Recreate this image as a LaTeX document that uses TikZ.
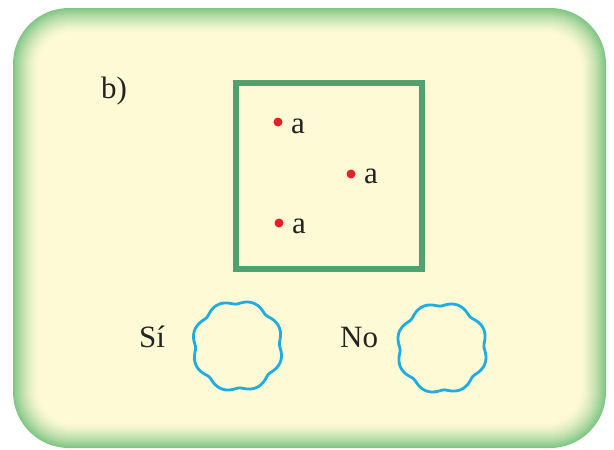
\documentclass[tikz,border=0pt]{standalone}
\usepackage{fontspec}
\setmainfont{Liberation Serif}
\definecolor{bggreen}{RGB}{128,198,132}
\definecolor{bgyellow}{RGB}{255,250,214}
\definecolor{sqgreen}{RGB}{82,160,112}
\definecolor{dotred}{RGB}{232,30,40}
\definecolor{wavecyan}{RGB}{30,172,226}
\definecolor{txt}{RGB}{35,35,35}
\tikzset{
  lbl/.style={font=\fontsize{31}{36}\selectfont, text=txt, inner sep=0pt},
  dotnode/.style={circle, fill=dotred, minimum size=9pt, inner sep=0pt},
  wavy/.style={draw=wavecyan, line width=2.8pt},
}
\begin{document}
\begin{tikzpicture}[x=1pt,y=-1pt]
\useasboundingbox (0,0) rectangle (614,450);
\fill[white] (0,0) rectangle (614,450);
% glowing border
\foreach \i in {0,...,26}{
  \pgfmathsetmacro{\p}{100*(1-\i/26)^1.5}
  \fill[bggreen!\p!bgyellow, rounded corners={56-\i*0.9}] (13+\i,8+\i) rectangle (606-\i,448-\i);
}
\node[lbl, anchor=base west] (b) at (101,98) {b)};
% square
\draw[sqgreen, line width=6pt] (236,83) rectangle (422,269);
\node[dotnode] (d1) at (278,122) {};
\node[dotnode] (d2) at (351,174) {};
\node[dotnode] (d3) at (279,223) {};
\node[lbl, anchor=base west] (a1) at (291,133) {a};
\node[lbl, anchor=base west] (a2) at (364,183) {a};
\node[lbl, anchor=base west] (a3) at (292,233) {a};
% answers
\node[lbl, anchor=base west] (si) at (139,347) {Sí};
\node[lbl, anchor=base west] (no) at (340,347) {No};
\coordinate (c1) at (237.5,346);
\coordinate (c2) at (442,348);
\draw[wavy, shift={(c1)}] plot[domain=0:360, samples=180, smooth] (\x:{40.5+5*sqrt(sin(4*\x+10)^2+0.08)}) -- cycle;
\draw[wavy, shift={(c2)}] plot[domain=0:360, samples=180, smooth] (\x:{40.5+5*sqrt(sin(4*\x+10)^2+0.08)}) -- cycle;
\end{tikzpicture}
\end{document}
